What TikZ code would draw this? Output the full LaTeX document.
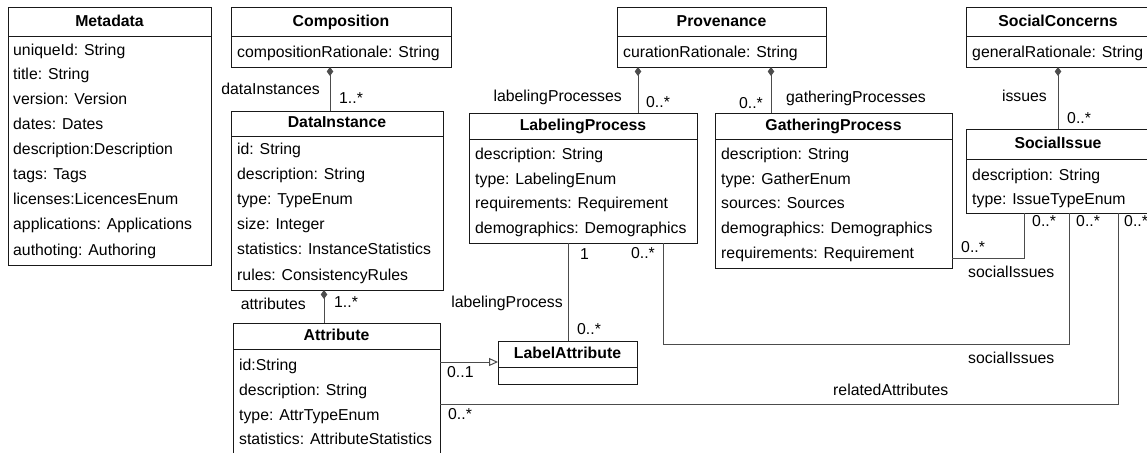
\documentclass[tikz,border=0pt]{standalone}
\usepackage{fontspec}
\setmainfont{Liberation Sans}
\usetikzlibrary{arrows.meta}
\newcommand{\diagfont}{\fontsize{15.8}{18}\selectfont}
\tikzset{
  cbox/.style={draw=black!90, line width=1pt, rectangle, inner sep=0pt, outer sep=0pt},
  boxline/.style={draw=black!90, line width=1pt},
  ctitle/.style={font=\diagfont\bfseries, inner sep=0pt, anchor=mid, yshift=-1.5pt},
  crow/.style={font=\diagfont, anchor=mid west, inner sep=0pt, yshift=-1.5pt},
  conn/.style={draw=black!70, line width=1pt},
  lbl/.style={font=\diagfont, inner sep=0pt, anchor=mid west, yshift=-1.5pt},
  lblr/.style={font=\diagfont, inner sep=0pt, anchor=mid east, yshift=-1.5pt},
  comp/.style={conn, {Diamond[length=9pt,width=6.5pt]}-},
  gen/.style={conn, -{Triangle[open,length=9pt,width=8pt]}},
}
\newcommand{\umlclass}[7]{%
  \node[cbox, minimum width={#4-#2}, minimum height={#5-#3}] (#1) at ({(#2+#4)/2},{(#3+#5)/2}) {};
  \draw[boxline] (#2,#6) -- (#4,#6);
  \node[ctitle] (#1-title) at ({(#2+#4)/2},{(#3+#6)/2}) {#7};
}
\begin{document}
\begin{tikzpicture}[x=1pt, y=-1pt, font=\diagfont]
\useasboundingbox (0,0) rectangle (1147,452);
\clip (0,0) rectangle (1147,452);

% Metadata
\umlclass{meta}{8}{7.5}{211}{265}{37}{Metadata}
\node[crow] (meta-r1) at (13,51) {uniqueId: String};
\node[crow] (meta-r2) at (13,75.5) {title: String};
\node[crow] (meta-r3) at (13,100.5) {version: Version};
\node[crow] (meta-r4) at (13,125.5) {dates: Dates};
\node[crow] (meta-r5) at (13,150) {description:Description};
\node[crow] (meta-r6) at (13,175) {tags: Tags};
\node[crow] (meta-r7) at (13,200) {licenses:LicencesEnum};
\node[crow] (meta-r8) at (13,225) {applications: Applications};
\node[crow] (meta-r9) at (13,251) {authoting: Authoring};

% Composition
\umlclass{comp}{231}{7.5}{451}{67}{37}{Composition}
\node[crow] (comp-r1) at (237,53) {compositionRationale: String};

% DataInstance
\umlclass{di}{231}{111}{443}{290}{136}{DataInstance}
\node[crow] (di-r1) at (237,150) {id: String};
\node[crow] (di-r2) at (237,175) {description: String};
\node[crow] (di-r3) at (237,200) {type: TypeEnum};
\node[crow] (di-r4) at (237,225) {size: Integer};
\node[crow] (di-r5) at (237,250) {statistics: InstanceStatistics};
\node[crow] (di-r6) at (237,276.5) {rules: ConsistencyRules};

% Provenance
\umlclass{prov}{617}{7.5}{826}{67}{37}{Provenance}
\node[crow] (prov-r1) at (623,53) {curationRationale: String};

% LabelingProcess
\umlclass{lp}{469}{113}{697}{243}{139}{LabelingProcess}
\node[crow] (lp-r1) at (475,155) {description: String};
\node[crow] (lp-r2) at (475,180) {type: LabelingEnum};
\node[crow] (lp-r3) at (475,204.5) {requirements: Requirement};
\node[crow] (lp-r4) at (475,229.5) {demographics: Demographics};

% GatheringProcess
\umlclass{gp}{715}{113}{952}{268}{139}{GatheringProcess}
\node[crow] (gp-r1) at (721,155) {description: String};
\node[crow] (gp-r2) at (721,180) {type: GatherEnum};
\node[crow] (gp-r3) at (721,204.5) {sources: Sources};
\node[crow] (gp-r4) at (721,229.5) {demographics: Demographics};
\node[crow] (gp-r5) at (721,254.5) {requirements: Requirement};

% SocialConcerns
\umlclass{sc}{966}{7.5}{1150}{67}{37}{SocialConcerns}
\node[crow] (sc-r1) at (972,53) {generalRationale: String};

% SocialIssue
\umlclass{si}{966}{129}{1150}{213}{159}{SocialIssue}
\node[crow] (si-r1) at (972,176) {description: String};
\node[crow] (si-r2) at (972,200.5) {type: IssueTypeEnum};

% Attribute
\umlclass{attr}{233}{323}{440}{458}{349}{Attribute}
\node[crow] (attr-r1) at (239,366) {id:String};
\node[crow] (attr-r2) at (239,391) {description: String};
\node[crow] (attr-r3) at (239,416) {type: AttrTypeEnum};
\node[crow] (attr-r4) at (239,440.5) {statistics: AttributeStatistics};

% LabelAttribute
\umlclass{la}{498}{341}{637}{384}{367}{LabelAttribute}

% Connectors
\draw[comp] (330,0 |- comp.south) -- (330,0 |- di.north);
\node[lblr] (l-di1) at (320,90) {dataInstances};
\node[lbl] (l-di2) at (339,99) {1..*};

\draw[comp] (638,0 |- prov.south) -- (638,0 |- lp.north);
\node[lblr] (l-lp1) at (622,97) {labelingProcesses};
\node[lbl] (l-lp2) at (646,103) {0..*};

\draw[comp] (771,0 |- prov.south) -- (771,0 |- gp.north);
\node[lblr] (l-gp1) at (763,104) {0..*};
\node[lbl] (l-gp2) at (786,98) {gatheringProcesses};

\draw[comp] (1058,0 |- sc.south) -- (1058,0 |- si.north);
\node[lblr] (l-si1) at (1047,97) {issues};
\node[lbl] (l-si2) at (1067,119) {0..*};

\draw[comp] (324,0 |- di.south) -- (324,0 |- attr.north);
\node[lblr] (l-at1) at (306,305) {attributes};
\node[lbl] (l-at2) at (334,303) {1..*};

\draw[conn] (568,0 |- lp.south) -- (568,0 |- la.north);
\node[lbl] (l-la1) at (580,255) {1};
\node[lblr] (l-la2) at (563,303) {labelingProcess};
\node[lbl] (l-la3) at (577,330) {0..*};

\draw[gen] (attr.east |- 0,362) -- (la.west |- 0,362);
\node[lbl] (l-gen) at (447,373) {0..1};

\draw[conn] (663,0 |- lp.south) -- (663,344) -| (1069,0 |- si.south);
\node[lblr] (l-s1a) at (655,254) {0..*};
\node[lbl] (l-s1b) at (1076,222) {0..*};
\node[lbl] (l-s1c) at (968,359) {socialIssues};

\draw[conn] (gp.east |- 0,258) -| (1024,0 |- si.south);
\node[lbl] (l-s2a) at (961,248) {0..*};
\node[lbl] (l-s2b) at (1032,222) {0..*};
\node[lbl] (l-s2c) at (968,273) {socialIssues};

\draw[conn] (attr.east |- 0,404) -| (1118,0 |- si.south);
\node[lbl] (l-raa) at (448,415) {0..*};
\node[lbl] (l-rab) at (1124,222) {0..*};
\node[lbl] (l-rac) at (833,391) {relatedAttributes};
\end{tikzpicture}
\end{document}
